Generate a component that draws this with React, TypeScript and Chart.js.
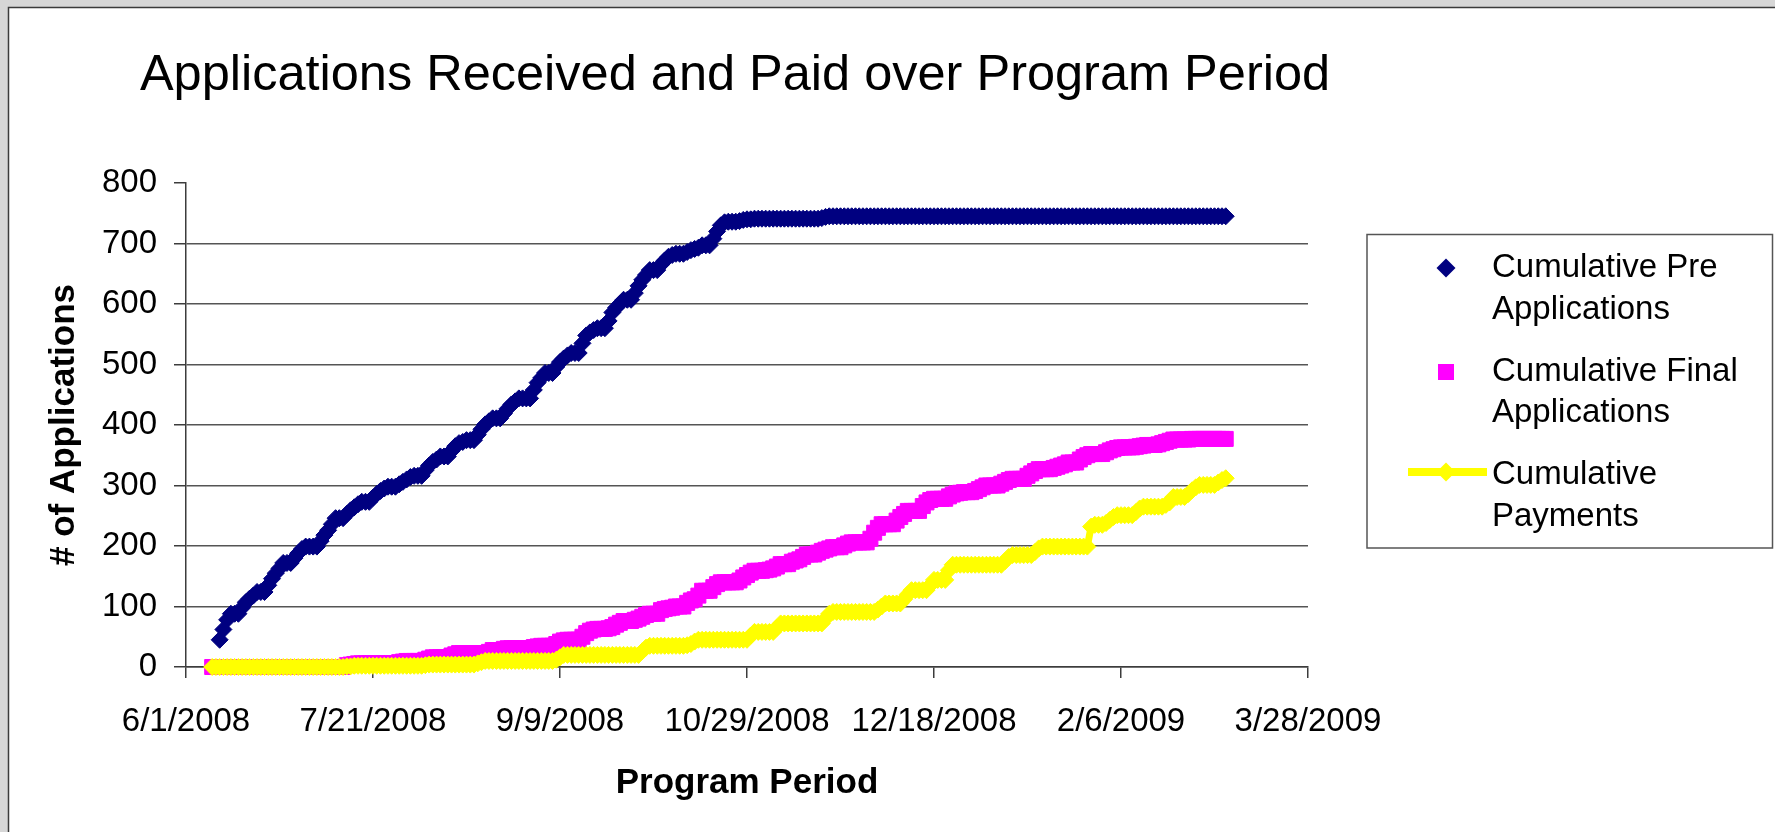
import React, { useEffect, useRef } from 'react';
import { Chart, registerables } from 'chart.js';

Chart.register(...registerables);

const FONT = '"Liberation Sans", Arial, Helvetica, sans-serif';

const TITLE = 'Applications Received and Paid over Program Period';
const X_TITLE = 'Program Period';
const Y_TITLE = '# of Applications';
const SERIES_LABELS = [
  ['Cumulative Pre', 'Applications'],
  ['Cumulative Final', 'Applications'],
  ['Cumulative', 'Payments'],
];

// x axis: days counted from 6/1/2008, ticks every 50 days up to 3/28/2009
const AXIS_START_UTC = Date.UTC(2008, 5, 1);
const FIRST_DATA_UTC = Date.UTC(2008, 5, 8);
const X_MIN = 0;
const X_MAX = 300;
const X_STEP = 50;
const Y_MIN = 0;
const Y_MAX = 800;
const Y_STEP = 100;

// daily cumulative values starting 6/8/2008 (rows = weeks, Sun..Sat)
const preApplications: (number | null)[] = [
  null, null, 45, 62, 78, 88, 88,
  88, 98, 107, 113, 118, 124, 124,
  124, 135, 146, 155, 163, 172, 172,
  172, 180, 188, 195, 199, 199, 199,
  199, 208, 218, 226, 236, 246, 246,
  246, 253, 259, 264, 269, 273, 273,
  273, 280, 286, 291, 295, 298, 298,
  298, 302, 306, 310, 314, 316, 316,
  316, 325, 333, 339, 343, 348, 348,
  348, 357, 365, 370, 372, 375, 375,
  375, 384, 393, 401, 406, 411, 411,
  411, 419, 427, 434, 439, 444, 444,
  444, 444, 458, 470, 478, 486, 486,
  486, 496, 504, 510, 515, 519, 519,
  519, 535, 548, 553, 557, 560, 560,
  560, 572, 586, 594, 600, 607, 607,
  607, 618, 630, 640, 648, 656, 656,
  656, 665, 672, 678, 681, 683, 683,
  683, 686, 689, 691, 693, 697, 697,
  697, 708, 720, 730, 735, 736, 736,
  736, 737, 739, 740, 740, 741, 741,
  741, 741, 741, 741, 741, 741, 741,
  741, 741, 741, 741, 741, 741, 741,
  741, 741, 742, 744, 745, 745, 745,
  745, 745, 745, 745, 745, 745, 745,
  745, 745, 745, 745, 745, 745, 745,
  745, 745, 745, 745, 745, 745, 745,
  745, 745, 745, 745, 745, 745, 745,
  745, 745, 745, 745, 745, 745, 745,
  745, 745, 745, 745, 745, 745, 745,
  745, 745, 745, 745, 745, 745, 745,
  745, 745, 745, 745, 745, 745, 745,
  745, 745, 745, 745, 745, 745, 745,
  745, 745, 745, 745, 745, 745, 745,
  745, 745, 745, 745, 745, 745, 745,
  745, 745, 745, 745, 745, 745, 745,
  745, 745, 745, 745, 745, 745, 745,
  745, 745, 745, 745, 745, 745, 745,
  745, 745, 745, 745, 745, 745,
];

const finalApplications: number[] = [
  0, 0, 0, 0, 0, 0, 0,
  0, 0, 0, 0, 0, 0, 0,
  0, 0, 0, 0, 0, 0, 0,
  0, 0, 0, 0, 0, 0, 0,
  0, 0, 0, 0, 0, 0, 0,
  0, 3, 4, 5, 6, 6, 6,
  6, 6, 6, 6, 6, 6, 6,
  6, 8, 9, 10, 10, 10, 10,
  10, 12, 14, 16, 16, 16, 16,
  16, 19, 21, 23, 23, 23, 23,
  23, 23, 23, 23, 25, 28, 28,
  28, 30, 31, 31, 31, 31, 31,
  31, 31, 33, 34, 35, 35, 35,
  35, 38, 42, 44, 45, 45, 45,
  45, 50, 56, 60, 62, 63, 63,
  63, 64, 66, 70, 73, 76, 76,
  76, 78, 80, 83, 86, 88, 88,
  88, 94, 96, 97, 98, 100, 100,
  100, 106, 110, 112, 118, 126, 126,
  126, 132, 137, 140, 140, 140, 140,
  140, 143, 148, 152, 156, 159, 159,
  159, 160, 161, 163, 166, 170, 170,
  170, 174, 176, 178, 182, 186, 186,
  186, 189, 192, 194, 196, 198, 198,
  198, 201, 204, 206, 206, 206, 206,
  206, 212, 222, 230, 236, 236, 236,
  236, 242, 248, 253, 258, 258, 258,
  258, 266, 272, 276, 278, 278, 278,
  278, 282, 285, 287, 288, 289, 289,
  289, 291, 294, 297, 300, 300, 300,
  300, 303, 306, 309, 311, 311, 311,
  311, 316, 320, 324, 327, 327, 327,
  327, 329, 331, 333, 335, 338, 338,
  338, 343, 347, 350, 352, 352, 352,
  352, 355, 358, 360, 362, 363, 363,
  363, 363, 364, 365, 366, 367, 367,
  367, 368, 370, 372, 374, 376, 376,
  376, 376, 376, 377, 377, 377, 377,
  377, 377, 377, 377, 377, 377,
];

const payments: number[] = [
  0, 0, 0, 0, 0, 0, 0,
  0, 0, 0, 0, 0, 0, 0,
  0, 0, 0, 0, 0, 0, 0,
  0, 0, 0, 0, 0, 0, 0,
  0, 0, 0, 0, 0, 0, 0,
  0, 1, 1, 2, 2, 2, 2,
  2, 2, 2, 2, 2, 2, 2,
  2, 2, 2, 2, 2, 2, 2,
  2, 3, 4, 4, 4, 4, 4,
  4, 4, 4, 4, 4, 4, 4,
  4, 6, 8, 10, 10, 10, 10,
  10, 10, 10, 10, 10, 10, 10,
  10, 10, 10, 10, 10, 10, 10,
  10, 12, 16, 20, 20, 20, 20,
  20, 20, 20, 20, 20, 20, 20,
  20, 20, 20, 20, 20, 20, 20,
  20, 20, 20, 26, 32, 35, 35,
  35, 35, 35, 35, 35, 35, 35,
  35, 36, 38, 42, 45, 45, 45,
  45, 45, 45, 45, 45, 45, 45,
  45, 45, 45, 45, 52, 58, 58,
  58, 58, 58, 58, 65, 72, 72,
  72, 72, 72, 72, 72, 72, 72,
  72, 72, 72, 80, 88, 91, 91,
  91, 91, 91, 91, 91, 91, 91,
  91, 91, 91, 95, 100, 105, 105,
  105, 105, 105, 112, 120, 127, 127,
  127, 127, 127, 135, 144, 144, 144,
  144, 160, 169, 169, 169, 169, 169,
  169, 169, 169, 169, 169, 169, 169,
  169, 169, 175, 182, 185, 185, 185,
  185, 185, 185, 190, 196, 199, 199,
  199, 199, 199, 199, 199, 199, 199,
  199, 199, 199, 199, 232, 235, 235,
  235, 238, 243, 248, 251, 251, 251,
  251, 251, 256, 262, 265, 265, 265,
  265, 265, 265, 268, 272, 281, 281,
  281, 281, 286, 292, 297, 301, 301,
  301, 301, 301, 305, 309, 312,
];

const NAVY = '#000080';
const MAGENTA = '#FF00FF';
const YELLOW = '#FFFF00';
const GRID = '#555555';
const AXIS = '#3c3c3c';

const DAY_MS = 86400000;
const FIRST_DAY = Math.round((FIRST_DATA_UTC - AXIS_START_UTC) / DAY_MS);

function toPoints(values: (number | null)[]) {
  const pts: { x: number; y: number }[] = [];
  values.forEach((v, i) => {
    if (v !== null) pts.push({ x: FIRST_DAY + i, y: v });
  });
  return pts;
}

function dayLabel(day: number) {
  const d = new Date(AXIS_START_UTC + day * DAY_MS);
  return `${d.getUTCMonth() + 1}/${d.getUTCDate()}/${d.getUTCFullYear()}`;
}

const framePlugin = {
  id: 'frame',
  beforeDraw(chart: any) {
    const { ctx, width, height } = chart;
    ctx.save();
    ctx.fillStyle = '#d6d6d6';
    ctx.fillRect(0, 0, width, height);
    ctx.fillStyle = '#ffffff';
    ctx.fillRect(8, 7, width - 8, height - 7);
    ctx.strokeStyle = '#3a3a3a';
    ctx.lineWidth = 1.5;
    ctx.beginPath();
    ctx.moveTo(8.5, height);
    ctx.lineTo(8.5, 7.5);
    ctx.lineTo(width, 7.5);
    ctx.stroke();
    ctx.restore();
  },
};

function diamond(ctx: CanvasRenderingContext2D, x: number, y: number, r: number) {
  ctx.beginPath();
  ctx.moveTo(x - r, y);
  ctx.lineTo(x, y - r);
  ctx.lineTo(x + r, y);
  ctx.lineTo(x, y + r);
  ctx.closePath();
  ctx.fill();
}

const legendPlugin = {
  id: 'boxLegend',
  afterDraw(chart: any) {
    const ctx: CanvasRenderingContext2D = chart.ctx;
    ctx.save();
    ctx.strokeStyle = '#555555';
    ctx.lineWidth = 1.5;
    ctx.strokeRect(1367, 234.5, 405.5, 313.5);

    ctx.font = `33px ${FONT}`;
    ctx.fillStyle = '#000';
    ctx.textBaseline = 'middle';
    ctx.textAlign = 'left';
    const rows = [
      [268, 310],
      [372, 413],
      [475, 517],
    ];
    const textX = 1492;
    SERIES_LABELS.forEach((lines, i) => {
      ctx.fillStyle = '#000';
      ctx.fillText(lines[0], textX, rows[i][0]);
      ctx.fillText(lines[1], textX, rows[i][1]);
    });

    const mx = 1446;
    ctx.fillStyle = NAVY;
    diamond(ctx, mx, rows[0][0], 9.5);

    ctx.fillStyle = MAGENTA;
    ctx.fillRect(mx - 8, rows[1][0] - 8, 16, 16);

    const ly = 472;
    ctx.strokeStyle = YELLOW;
    ctx.lineWidth = 8;
    ctx.beginPath();
    ctx.moveTo(1408, ly);
    ctx.lineTo(1487, ly);
    ctx.stroke();
    ctx.fillStyle = YELLOW;
    diamond(ctx, mx, ly, 9.5);
    ctx.restore();
  },
};

export default function App() {
  const canvasRef = useRef<HTMLCanvasElement | null>(null);

  useEffect(() => {
    const canvas = canvasRef.current;
    if (!canvas) return;
    const chart = new Chart(canvas, {
      type: 'line',
      data: {
        datasets: [
          {
            label: SERIES_LABELS[0].join(' '),
            data: toPoints(preApplications),
            showLine: false,
            pointStyle: 'rectRot',
            pointRadius: 8.5,
            pointBackgroundColor: NAVY,
            pointBorderColor: NAVY,
            pointBorderWidth: 1,
            borderColor: NAVY,
            backgroundColor: NAVY,
            clip: false,
            order: 1,
          } as any,
          {
            label: SERIES_LABELS[1].join(' '),
            data: toPoints(finalApplications),
            showLine: false,
            pointStyle: 'rect',
            pointRadius: 10.6,
            pointBackgroundColor: MAGENTA,
            pointBorderColor: MAGENTA,
            pointBorderWidth: 1,
            borderColor: MAGENTA,
            backgroundColor: MAGENTA,
            clip: false,
            order: 2,
          } as any,
          {
            label: SERIES_LABELS[2].join(' '),
            data: toPoints(payments),
            showLine: true,
            borderColor: YELLOW,
            backgroundColor: YELLOW,
            borderWidth: 7,
            tension: 0,
            pointStyle: 'rectRot',
            pointRadius: 8.5,
            pointBackgroundColor: YELLOW,
            pointBorderColor: YELLOW,
            pointBorderWidth: 1,
            clip: false,
            order: 0,
          } as any,
        ],
      },
      options: {
        responsive: false,
        animation: false,
        devicePixelRatio: 1,
        events: [],
        layout: { padding: { left: 0, top: 0, right: 305, bottom: 0 } },
        plugins: {
          legend: { display: false },
          tooltip: { enabled: false },
          title: {
            display: true,
            text: TITLE,
            align: 'center',
            color: '#000',
            font: { family: FONT, size: 50.5, weight: 'normal', lineHeight: 1.2 },
            padding: { top: 46, bottom: 76.4 },
          },
        },
        scales: {
          x: {
            type: 'linear',
            position: 'bottom',
            min: X_MIN,
            max: X_MAX,
            afterFit: (s: any) => {
              s.height = 165;
            },
            ticks: {
              stepSize: X_STEP,
              autoSkip: false,
              maxRotation: 0,
              minRotation: 0,
              padding: 24,
              color: '#000',
              font: { family: FONT, size: 33 },
              callback: (v: any) => dayLabel(Number(v)),
            },
            grid: {
              drawOnChartArea: false,
              drawTicks: true,
              tickLength: 11,
              color: AXIS,
              lineWidth: 1.5,
            },
            border: { display: true, color: AXIS, width: 1.5 },
            title: {
              display: true,
              text: X_TITLE,
              color: '#000',
              font: { family: FONT, size: 35, weight: 'bold', lineHeight: 1.2 },
              padding: { top: 0, bottom: 28 },
            },
          },
          y: {
            type: 'linear',
            position: 'left',
            min: Y_MIN,
            max: Y_MAX,
            afterFit: (s: any) => {
              s.width = 186;
            },
            ticks: {
              stepSize: Y_STEP,
              padding: 17,
              color: '#000',
              font: { family: FONT, size: 33 },
            },
            grid: {
              color: (c: any) => (c.tick && c.tick.value === Y_MAX ? 'rgba(0,0,0,0)' : GRID),
              tickColor: AXIS,
              drawTicks: true,
              tickLength: 12,
              lineWidth: 1.5,
            },
            border: { display: true, color: AXIS, width: 1.5 },
            title: {
              display: true,
              text: Y_TITLE,
              color: '#000',
              font: { family: FONT, size: 35, weight: 'bold', lineHeight: 1.2 },
              padding: { top: 43, bottom: 0 },
            },
          },
          spacer: {
            type: 'linear',
            position: 'right',
            display: true,
            afterFit: (s: any) => {
              s.width = 162;
            },
            ticks: { display: false },
            grid: { display: false, drawTicks: false },
            border: { display: false },
            title: { display: false },
          },
        },
      } as any,
      plugins: [framePlugin, legendPlugin],
    });
    return () => chart.destroy();
  }, []);

  return (
    <div style={{ position: 'absolute', left: 0, top: 0, width: 1775, height: 832 }}>
      <canvas ref={canvasRef} width={1775} height={832} style={{ display: 'block' }} />
    </div>
  );
}
